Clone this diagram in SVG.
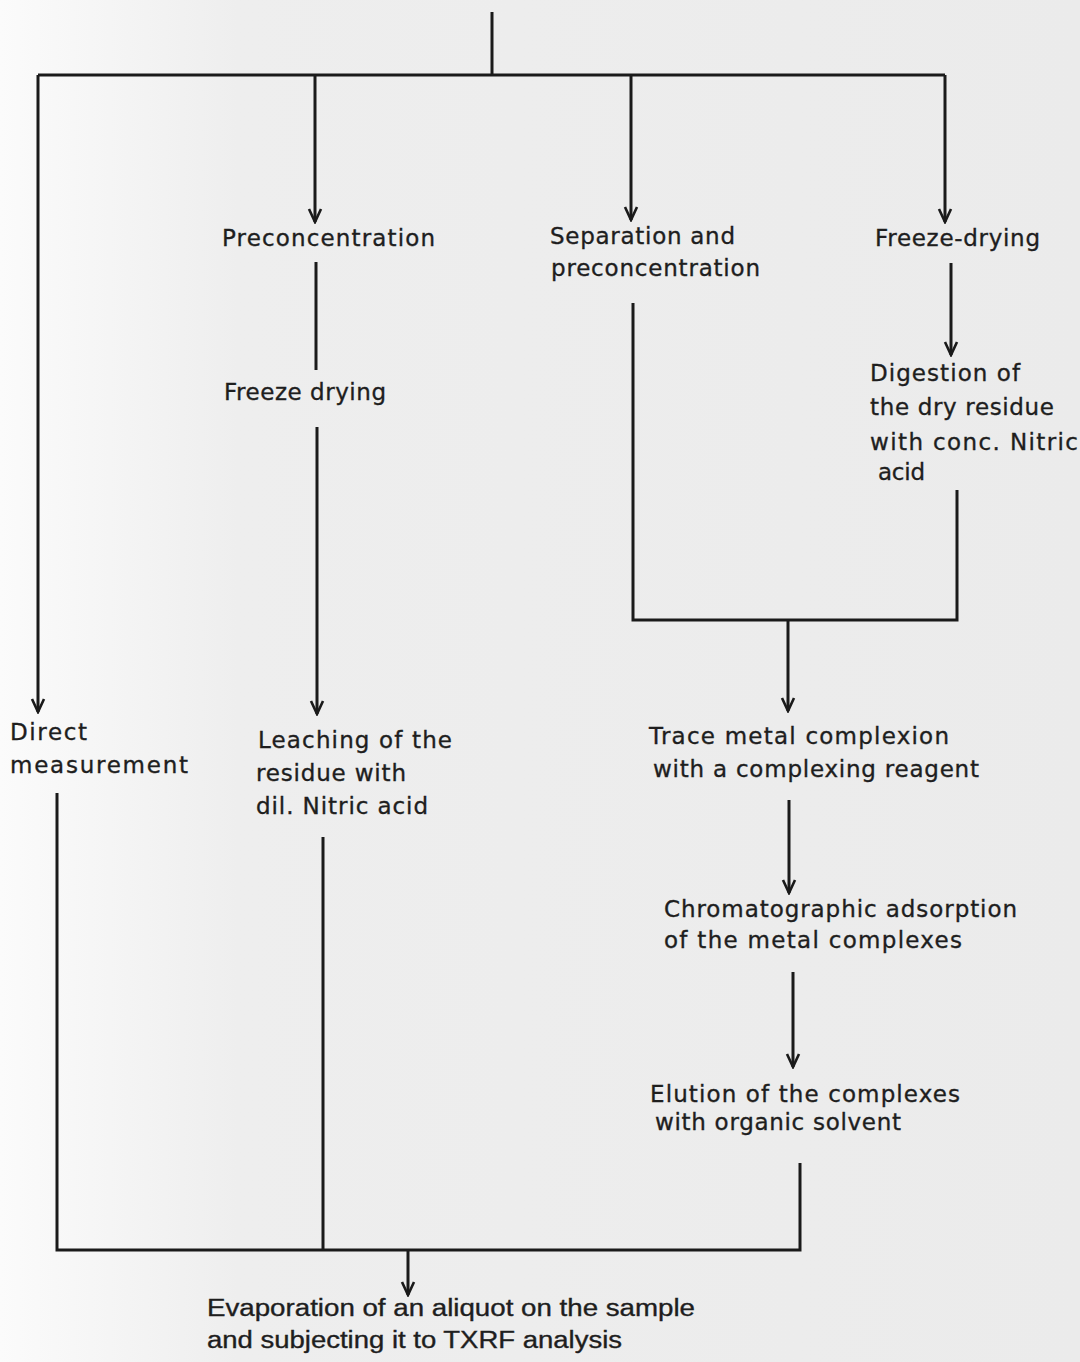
<svg xmlns="http://www.w3.org/2000/svg" width="1080" height="1362" viewBox="0 0 1080 1362">
<defs>
<linearGradient id="bg" x1="0" y1="0" x2="1" y2="0">
<stop offset="0" stop-color="#fbfbfb"/>
<stop offset="0.22" stop-color="#eeeeee"/>
<stop offset="1" stop-color="#ebebeb"/>
</linearGradient>
<marker id="arr" viewBox="-15 -8 17 16" markerWidth="17" markerHeight="16" refX="0" refY="0" orient="auto" markerUnits="userSpaceOnUse">
<path d="M-13,-6 L0,0 L-13,6" fill="none" stroke="#1a1a1a" stroke-width="2.6"/>
</marker>
</defs>
<style>
text{font-family:"DejaVu Sans","Liberation Sans",sans-serif;font-size:23px;fill:#1e1e1e;stroke:#1e1e1e;stroke-width:0.35;}
.n{font-family:"Liberation Sans",Arial,sans-serif;font-size:23px;}
.c{fill:none;stroke:#1a1a1a;stroke-width:3;}
.a{marker-end:url(#arr);}
</style>
<rect width="1080" height="1362" fill="url(#bg)"/>
<g id="connectors">
<path class="c" d="M492,12 V75"/>
<path class="c" d="M38,75 H945"/>
<path class="c a" d="M38,75 V712"/>
<path class="c a" d="M315,75 V222"/>
<path class="c a" d="M631,75 V220"/>
<path class="c a" d="M945,75 V222"/>
<path class="c" d="M316,262 V370"/>
<path class="c a" d="M317,427 V714"/>
<path class="c a" d="M951,263 V355"/>
<path class="c" d="M633,303 V620 H957 V490"/>
<path class="c a" d="M788,620 V711"/>
<path class="c a" d="M789,800 V893"/>
<path class="c a" d="M793,972 V1067"/>
<path class="c" d="M57,793 V1250 H800 V1163"/>
<path class="c" d="M323,837 V1250"/>
<path class="c a" d="M408,1250 V1295"/>
</g>
<g id="preconcentration"><text x="222" y="246" textLength="213" lengthAdjust="spacing">Preconcentration</text></g>
<g id="separation"><text x="550" y="244" textLength="185" lengthAdjust="spacing">Separation and</text><text x="551" y="276" textLength="209" lengthAdjust="spacing">preconcentration</text></g>
<g id="freeze-drying-right"><text x="875" y="246" textLength="165" lengthAdjust="spacing">Freeze-drying</text></g>
<g id="freeze-drying-left"><text x="224" y="400" textLength="162" lengthAdjust="spacing">Freeze drying</text></g>
<g id="digestion"><text x="870" y="381" textLength="150" lengthAdjust="spacing">Digestion of</text><text x="870" y="415" textLength="184" lengthAdjust="spacing">the dry residue</text><text x="870" y="450" textLength="208" lengthAdjust="spacing">with conc. Nitric</text><text x="878" y="480" textLength="47" lengthAdjust="spacing">acid</text></g>
<g id="direct"><text x="10" y="740" textLength="77" lengthAdjust="spacing">Direct</text><text x="10" y="773" textLength="178" lengthAdjust="spacing">measurement</text></g>
<g id="leaching"><text x="258" y="748" textLength="194" lengthAdjust="spacing">Leaching of the</text><text x="256" y="781" textLength="150" lengthAdjust="spacing">residue with</text><text x="256" y="814" textLength="172" lengthAdjust="spacing">dil. Nitric acid</text></g>
<g id="trace"><text x="649" y="744" textLength="300" lengthAdjust="spacing">Trace metal complexion</text><text x="653" y="777" textLength="326" lengthAdjust="spacing">with a complexing reagent</text></g>
<g id="chromatographic"><text x="664" y="917" textLength="353" lengthAdjust="spacing">Chromatographic adsorption</text><text x="664" y="948" textLength="298" lengthAdjust="spacing">of the metal complexes</text></g>
<g id="elution"><text x="650" y="1102" textLength="310" lengthAdjust="spacing">Elution of the complexes</text><text x="655" y="1130" textLength="246" lengthAdjust="spacing">with organic solvent</text></g>
<g id="evaporation"><text class="n" x="207" y="1316" textLength="488" lengthAdjust="spacingAndGlyphs">Evaporation of an aliquot on the sample</text><text class="n" x="207" y="1348" textLength="415" lengthAdjust="spacingAndGlyphs">and subjecting it to TXRF analysis</text></g>
</svg>
